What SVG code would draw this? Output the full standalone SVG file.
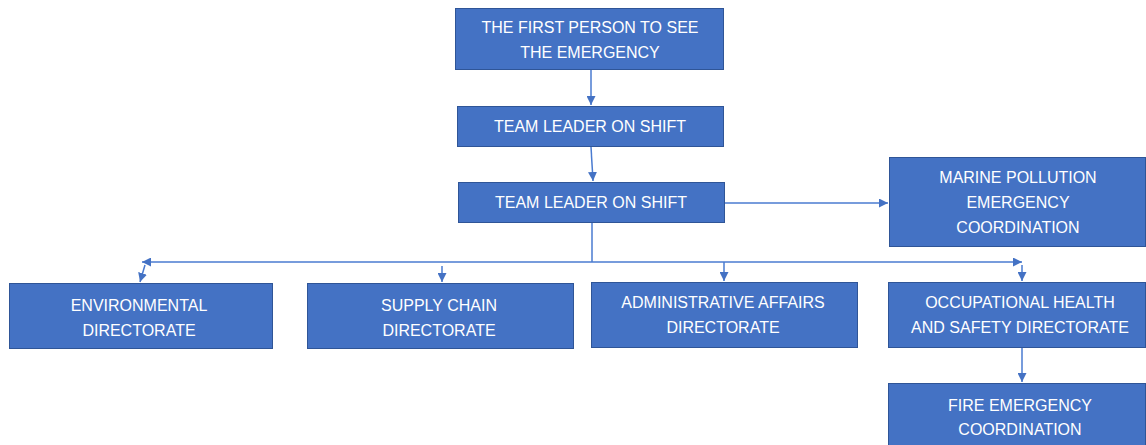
<svg xmlns="http://www.w3.org/2000/svg" width="1146" height="445" viewBox="0 0 1146 445">
<style>
.box{fill:#4472C4;stroke:#2F5597;stroke-width:1}
.t{font-family:"Liberation Sans",Arial,sans-serif;font-size:16px;fill:#ffffff;text-anchor:middle}
.c{fill:none;stroke:#4A7BD0;stroke-width:1.5}
</style>
<defs>
<marker id="ah" viewBox="0 0 10 10" refX="10" refY="5" markerWidth="9" markerHeight="9" markerUnits="userSpaceOnUse" orient="auto">
<path d="M0,0 L10,5 L0,10 z" fill="#4472C4"/>
</marker>
</defs>
<rect width="1146" height="445" fill="#ffffff"/>
<g id="connectors">
<line class="c" x1="591" y1="70" x2="591" y2="105" marker-end="url(#ah)"/>
<line class="c" x1="591" y1="147" x2="593" y2="181" marker-end="url(#ah)"/>
<line class="c" x1="724" y1="203" x2="888" y2="203" marker-end="url(#ah)"/>
<polyline class="c" points="592,222 592,262"/>
<line class="c" x1="592" y1="262" x2="142" y2="262" marker-end="url(#ah)"/>
<line class="c" x1="592" y1="262" x2="1022" y2="262" marker-end="url(#ah)"/>
<line class="c" x1="145" y1="265" x2="140" y2="282" marker-end="url(#ah)"/>
<line class="c" x1="442" y1="266" x2="442" y2="282" marker-end="url(#ah)"/>
<line class="c" x1="724" y1="262" x2="724" y2="281" marker-end="url(#ah)"/>
<line class="c" x1="1022" y1="265" x2="1022" y2="281" marker-end="url(#ah)"/>
<line class="c" x1="1022" y1="348" x2="1022" y2="382" marker-end="url(#ah)"/>
</g>
<g id="first-person">
<rect class="box" x="455.5" y="8.5" width="268" height="61"/>
<text class="t" x="590" y="33">THE FIRST PERSON TO SEE</text>
<text class="t" x="590" y="58">THE EMERGENCY</text>
</g>
<g id="team-leader-1">
<rect class="box" x="457.5" y="106.5" width="266" height="40"/>
<text class="t" x="590" y="132">TEAM LEADER ON SHIFT</text>
</g>
<g id="team-leader-2">
<rect class="box" x="458.5" y="182.5" width="266" height="40"/>
<text class="t" x="591" y="208">TEAM LEADER ON SHIFT</text>
</g>
<g id="marine-pollution">
<rect class="box" x="889.5" y="157.5" width="256" height="89"/>
<text class="t" x="1018" y="183">MARINE POLLUTION</text>
<text class="t" x="1018" y="208">EMERGENCY</text>
<text class="t" x="1018" y="233">COORDINATION</text>
</g>
<g id="environmental">
<rect class="box" x="9.5" y="283.5" width="263" height="65"/>
<text class="t" x="139" y="311">ENVIRONMENTAL</text>
<text class="t" x="139" y="336">DIRECTORATE</text>
</g>
<g id="supply-chain">
<rect class="box" x="307.5" y="283.5" width="266" height="65"/>
<text class="t" x="439" y="311">SUPPLY CHAIN</text>
<text class="t" x="439" y="336">DIRECTORATE</text>
</g>
<g id="administrative">
<rect class="box" x="591.5" y="282.5" width="266" height="65"/>
<text class="t" x="723" y="308">ADMINISTRATIVE AFFAIRS</text>
<text class="t" x="723" y="333">DIRECTORATE</text>
</g>
<g id="ohs">
<rect class="box" x="888.5" y="282.5" width="257" height="65"/>
<text class="t" x="1020" y="308">OCCUPATIONAL HEALTH</text>
<text class="t" x="1020" y="333">AND SAFETY DIRECTORATE</text>
</g>
<g id="fire-emergency">
<rect class="box" x="888.5" y="383.5" width="257" height="70"/>
<text class="t" x="1020" y="411">FIRE EMERGENCY</text>
<text class="t" x="1020" y="435">COORDINATION</text>
</g>
</svg>
